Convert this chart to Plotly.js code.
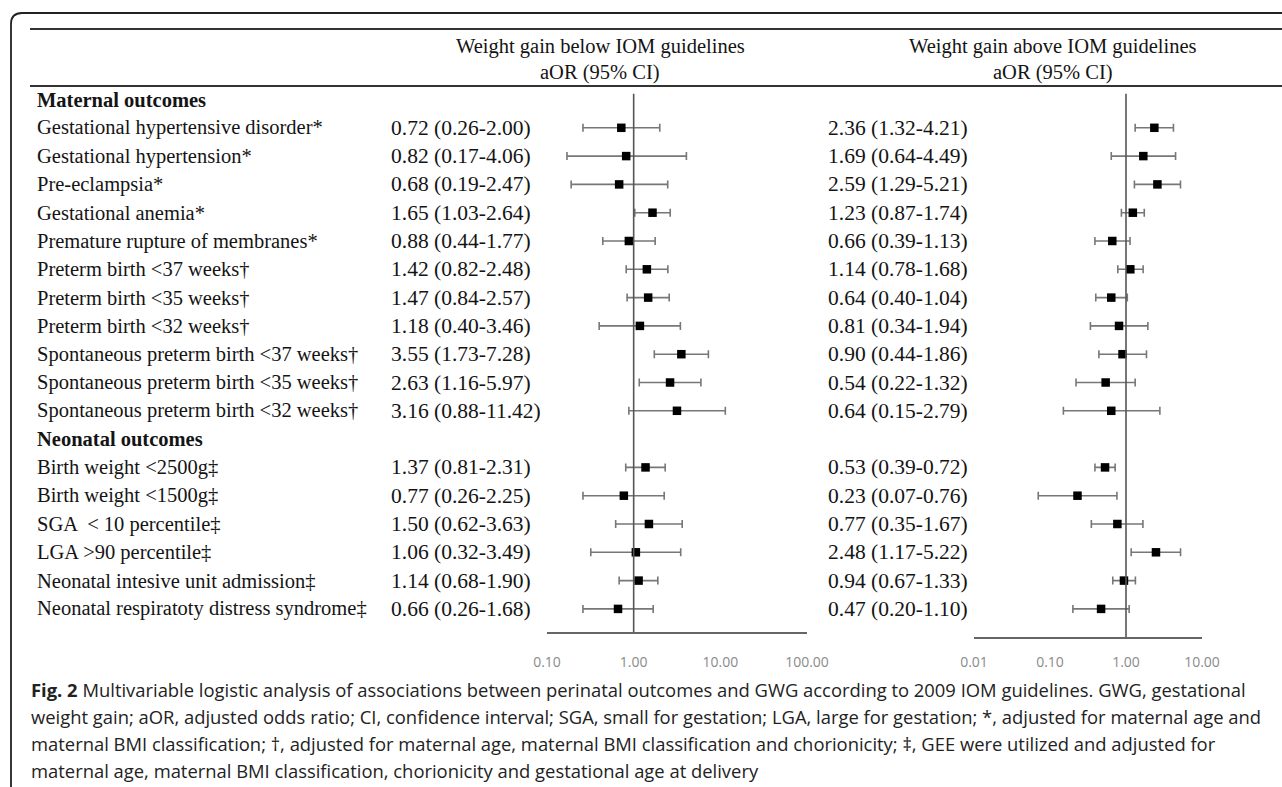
<!DOCTYPE html>
<html>
<head>
<meta charset="utf-8">
<script src="https://cdn.plot.ly/plotly-3.0.1.min.js"></script>
<style>html,body{margin:0;padding:0;background:#fff;}#chart{width:1282px;height:787px;}</style>
</head>
<body>
<div id="chart"></div>
<script>
// ---------------- DATA ----------------
const groupHeaders = ["Maternal outcomes", "Neonatal outcomes"];
const maternalLabels = [
  "Gestational hypertensive disorder*",
  "Gestational hypertension*",
  "Pre-eclampsia*",
  "Gestational anemia*",
  "Premature rupture of membranes*",
  "Preterm birth <37 weeks\u2020",
  "Preterm birth <35 weeks\u2020",
  "Preterm birth <32 weeks\u2020",
  "Spontaneous preterm birth <37 weeks\u2020",
  "Spontaneous preterm birth <35 weeks\u2020",
  "Spontaneous preterm birth <32 weeks\u2020"
];
const neonatalLabels = [
  "Birth weight <2500g\u2021",
  "Birth weight <1500g\u2021",
  "SGA \u00a0< 10 percentile\u2021",
  "LGA >90 percentile\u2021",
  "Neonatal intesive unit admission\u2021",
  "Neonatal respiratoty distress syndrome\u2021"
];
// Weight gain below IOM guidelines
const belowOR = [0.72, 0.82, 0.68, 1.65, 0.88, 1.42, 1.47, 1.18, 3.55, 2.63, 3.16, 1.37, 0.77, 1.50, 1.06, 1.14, 0.66];
const belowLo = [0.26, 0.17, 0.19, 1.03, 0.44, 0.82, 0.84, 0.40, 1.73, 1.16, 0.88, 0.81, 0.26, 0.62, 0.32, 0.68, 0.26];
const belowHi = [2.00, 4.06, 2.47, 2.64, 1.77, 2.48, 2.57, 3.46, 7.28, 5.97, 11.42, 2.31, 2.25, 3.63, 3.49, 1.90, 1.68];
// Weight gain above IOM guidelines
const aboveOR = [2.36, 1.69, 2.59, 1.23, 0.66, 1.14, 0.64, 0.81, 0.90, 0.54, 0.64, 0.53, 0.23, 0.77, 2.48, 0.94, 0.47];
const aboveLo = [1.32, 0.64, 1.29, 0.87, 0.39, 0.78, 0.40, 0.34, 0.44, 0.22, 0.15, 0.39, 0.07, 0.35, 1.17, 0.67, 0.20];
const aboveHi = [4.21, 4.49, 5.21, 1.74, 1.13, 1.68, 1.04, 1.94, 1.86, 1.32, 2.79, 0.72, 0.76, 1.67, 5.22, 1.33, 1.10];

const leftTickVals = [0.1, 1, 10, 100];
const leftTickText = ["0.10", "1.00", "10.00", "100.00"];
const rightTickVals = [0.01, 0.1, 1, 10];
const rightTickText = ["0.01", "0.10", "1.00", "10.00"];

const headerBelow = ["Weight gain below IOM guidelines", "aOR (95% CI)"];
const headerAbove = ["Weight gain above IOM guidelines", "aOR (95% CI)"];

const captionLines = [
  "<b>Fig. 2</b> Multivariable logistic analysis of associations between perinatal outcomes and GWG according to 2009 IOM guidelines. GWG, gestational",
  "weight gain; aOR, adjusted odds ratio; CI, confidence interval; SGA, small for gestation; LGA, large for gestation; *, adjusted for maternal age and",
  "maternal BMI classification; \u2020, adjusted for maternal age, maternal BMI classification and chorionicity; \u2021, GEE were utilized and adjusted for",
  "maternal age, maternal BMI classification, chorionicity and gestational age at delivery"
];

// ---------------- LAYOUT HELPERS ----------------
const W = 1282, H = 787;
const ROW0 = 99.5, ROWH = 28.3;      // pixel centre of row 0 and row pitch
const LEFT_AXIS_Y = 632, RIGHT_AXIS_Y = 637;
const px = x => x / W;
const py = y => 1 - y / H;

// row indices: 0 = maternal header, 1..11 maternal, 12 neonatal header, 13..18 neonatal
const maternalRows = maternalLabels.map((_, i) => i + 1);
const neonatalRows = neonatalLabels.map((_, i) => i + 13);
const dataRows = maternalRows.concat(neonatalRows);
const allLabels = maternalLabels.concat(neonatalLabels);
const headerRows = [0, 12];

function yRange(bottomPx) {
  return [(bottomPx - ROW0) / ROWH, -ROW0 / ROWH];
}

const fmt = (o, l, h) => `${o.toFixed(2)} (${l.toFixed(2)}-${h.toFixed(2)})`;

const SERIF = "Liberation Serif, Times New Roman, serif";
const SANS = "Open Sans, Noto Sans, sans-serif";
const TXT = "#141414";
const FS = 20.5;
const FSV = 21.5;

function ciTrace(or, lo, hi, xa, ya) {
  return {
    type: "scatter", mode: "markers",
    x: or, y: dataRows, xaxis: xa, yaxis: ya,
    marker: { symbol: "square", size: 8.5, color: "#000" },
    error_x: {
      type: "data", symmetric: false,
      array: hi.map((h, i) => h - or[i]),
      arrayminus: lo.map((l, i) => or[i] - l),
      color: "#777", thickness: 1.6, width: 4
    },
    hoverinfo: "skip", showlegend: false, cliponaxis: false
  };
}

const traces = [
  ciTrace(belowOR, belowLo, belowHi, "x", "y"),
  ciTrace(aboveOR, aboveLo, aboveHi, "x2", "y2")
];

const annotations = [];
// row labels
allLabels.forEach((t, i) => annotations.push({
  xref: "paper", x: px(35), xanchor: "left", yref: "y", y: dataRows[i], yanchor: "middle",
  text: t, showarrow: false, font: { family: SERIF, size: FS, color: TXT }
}));
headerRows.forEach((r, i) => annotations.push({
  xref: "paper", x: px(35), xanchor: "left", yref: "y", y: r, yanchor: "middle",
  text: "<b>" + groupHeaders[i] + "</b>", showarrow: false, font: { family: SERIF, size: FS, color: TXT }
}));
// value columns
dataRows.forEach((r, i) => {
  annotations.push({
    xref: "paper", x: px(389), xanchor: "left", yref: "y", y: r, yanchor: "middle",
    text: fmt(belowOR[i], belowLo[i], belowHi[i]), showarrow: false,
    font: { family: SERIF, size: FSV, color: TXT }
  });
  annotations.push({
    xref: "paper", x: px(826), xanchor: "left", yref: "y", y: r, yanchor: "middle",
    text: fmt(aboveOR[i], aboveLo[i], aboveHi[i]), showarrow: false,
    font: { family: SERIF, size: FSV, color: TXT }
  });
});
// column headers
[[headerBelow, 600], [headerAbove, 1053]].forEach(([lines, cx]) => {
  lines.forEach((t, j) => annotations.push({
    xref: "paper", x: px(cx), xanchor: "center", yref: "paper", y: py(j === 0 ? 46 : 72), yanchor: "middle",
    text: t, showarrow: false, font: { family: SERIF, size: FS, color: TXT }
  }));
});
// caption
captionLines.forEach((t, j) => annotations.push({
  xref: "paper", x: px(29), xanchor: "left", yref: "paper", y: py(689 + j * 27), yanchor: "middle",
  text: t, showarrow: false, font: { family: SANS, size: 18.4, color: "#222" }
}));

// frame path (rounded top-left corner)
const r = 11;
const framePath = `M ${px(11)} ${py(H + 2)} L ${px(11)} ${py(13 + r)} Q ${px(11)} ${py(13)} ${px(11 + r)} ${py(13)} L ${px(W + 2)} ${py(13)}`;

const shapes = [
  { type: "path", xref: "paper", yref: "paper", path: framePath, line: { color: "#222", width: 1.8 } },
  { type: "line", xref: "paper", yref: "paper", x0: px(30), x1: px(W + 2), y0: py(29), y1: py(29), line: { color: "#333", width: 2 } },
  { type: "line", xref: "paper", yref: "paper", x0: px(30), x1: px(W + 2), y0: py(86), y1: py(86), line: { color: "#333", width: 2 } },
  { type: "line", xref: "x", yref: "y", x0: 1, x1: 1, y0: -0.2, y1: yRange(LEFT_AXIS_Y)[0], line: { color: "#555", width: 1.6 } },
  { type: "line", xref: "x2", yref: "y2", x0: 1, x1: 1, y0: -0.2, y1: yRange(RIGHT_AXIS_Y)[0], line: { color: "#555", width: 1.6 } }
];

const axisCommon = {
  type: "log", showgrid: false, zeroline: false, showline: true,
  linecolor: "#666", linewidth: 1.6, ticks: "outside", tickcolor: "rgba(0,0,0,0)",
  tickfont: { family: SANS, size: 14, color: "#8a8a8a" }, fixedrange: true
};

const layout = {
  width: W, height: H,
  margin: { l: 0, r: 0, t: 0, b: 0, pad: 0 },
  paper_bgcolor: "#fff", plot_bgcolor: "rgba(0,0,0,0)",
  showlegend: false,
  xaxis: Object.assign({}, axisCommon, {
    domain: [px(547), px(807)], range: [-1, 2], anchor: "y",
    tickvals: leftTickVals, ticktext: leftTickText, ticklen: 17
  }),
  xaxis2: Object.assign({}, axisCommon, {
    domain: [px(974), px(1202)], range: [-2, 1], anchor: "y2",
    tickvals: rightTickVals, ticktext: rightTickText, ticklen: 12
  }),
  yaxis: {
    domain: [1 - LEFT_AXIS_Y / H, 1], range: yRange(LEFT_AXIS_Y), anchor: "x",
    visible: false, showgrid: false, zeroline: false, fixedrange: true
  },
  yaxis2: {
    domain: [1 - RIGHT_AXIS_Y / H, 1], range: yRange(RIGHT_AXIS_Y), anchor: "x2",
    visible: false, showgrid: false, zeroline: false, fixedrange: true
  },
  shapes: shapes,
  annotations: annotations
};

Plotly.newPlot("chart", traces, layout, { staticPlot: true, displayModeBar: false });
</script>
</body>
</html>
